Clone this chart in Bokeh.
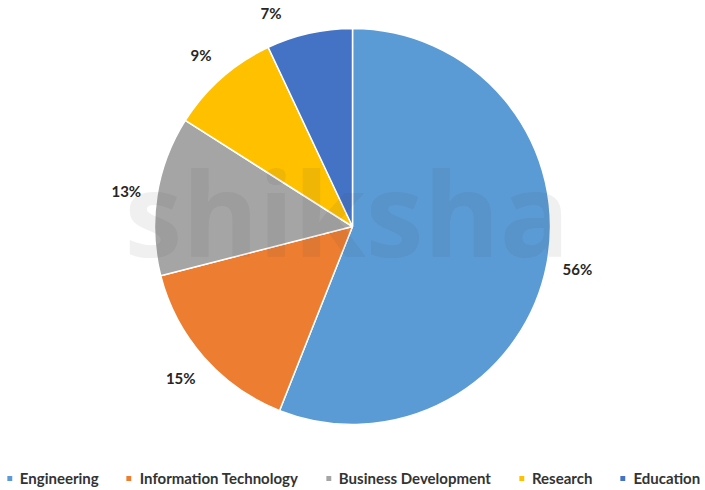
import math
from bokeh.plotting import figure
from bokeh.models import ColumnDataSource, Legend, LegendItem, Range1d
from bokeh.core.properties import value
from bokeh.embed import file_html
from bokeh.resources import INLINE

# ---- data ----
categories = ["Engineering", "Information Technology", "Business Development", "Research", "Education"]
shares = [56, 15, 13, 9, 7]
colors = ["#5B9BD5", "#ED7D31", "#A5A5A5", "#FFC000", "#4472C4"]

# ---- layout (pixel units) ----
W, H = 705, 490
CX, CY, R = 352, 264, 198
LABEL_R = 229
TOP_LIMIT = 478

total = sum(shares)
starts, ends, lx, ly, labels = [], [], [], [], []
cum = 0
for s in shares:
    a0 = math.pi / 2 - 2 * math.pi * cum / total
    cum += s
    a1 = math.pi / 2 - 2 * math.pi * cum / total
    starts.append(a1)
    ends.append(a0)
    mid = (a0 + a1) / 2
    x = CX + LABEL_R * math.cos(mid)
    y = CY + LABEL_R * math.sin(mid)
    if y > TOP_LIMIT:
        y = TOP_LIMIT
        dy = y - CY
        dx = math.sqrt(max(LABEL_R ** 2 - dy ** 2, 0))
        x = CX + (dx if math.cos(mid) >= 0 else -dx)
    lx.append(x)
    ly.append(y)
    labels.append(f"{s}%")

src = ColumnDataSource(dict(cat=categories, share=shares, color=colors,
                            start=starts, end=ends))
lsrc = ColumnDataSource(dict(x=lx, y=ly, text=labels))

p = figure(width=W, height=H, output_backend="svg", toolbar_location=None,
           x_range=Range1d(0, W), y_range=Range1d(0, H),
           x_axis_type=None, y_axis_type=None, min_border=0,
           outline_line_color=None, background_fill_color="white",
           border_fill_color="white")
p.grid.visible = False

wedges = p.wedge(x=CX, y=CY, radius=R, start_angle="start", end_angle="end",
                 direction="anticlock", fill_color="color", line_color="white",
                 line_width=1.5, source=src)

# faint watermark
p.text(x=[124], y=[279], text=["shiksha"], text_font=value("Open Sans"),
       text_font_style="bold", text_font_size="116px", text_color="#444444",
       text_alpha=0.08, text_align="left", text_baseline="alphabetic")

p.text(x="x", y="y", text="text", source=lsrc, text_font=value("Lato"),
       text_font_style="bold", text_font_size="15px", text_color="#262626",
       text_align="center", text_baseline="middle")

items = [LegendItem(label=cat, renderers=[wedges], index=i)
         for i, cat in enumerate(categories)]

legend = Legend(items=items, orientation="horizontal", location="bottom",
                glyph_width=8, glyph_height=8, label_standoff=7, spacing=26,
                padding=0, margin=3, border_line_alpha=0, background_fill_alpha=0,
                label_text_font="Lato", label_text_font_style="bold",
                label_text_font_size="15px", label_text_color="#333333",
                label_height=15)
p.add_layout(legend)

open("out.html", "w").write(file_html(p, INLINE))
